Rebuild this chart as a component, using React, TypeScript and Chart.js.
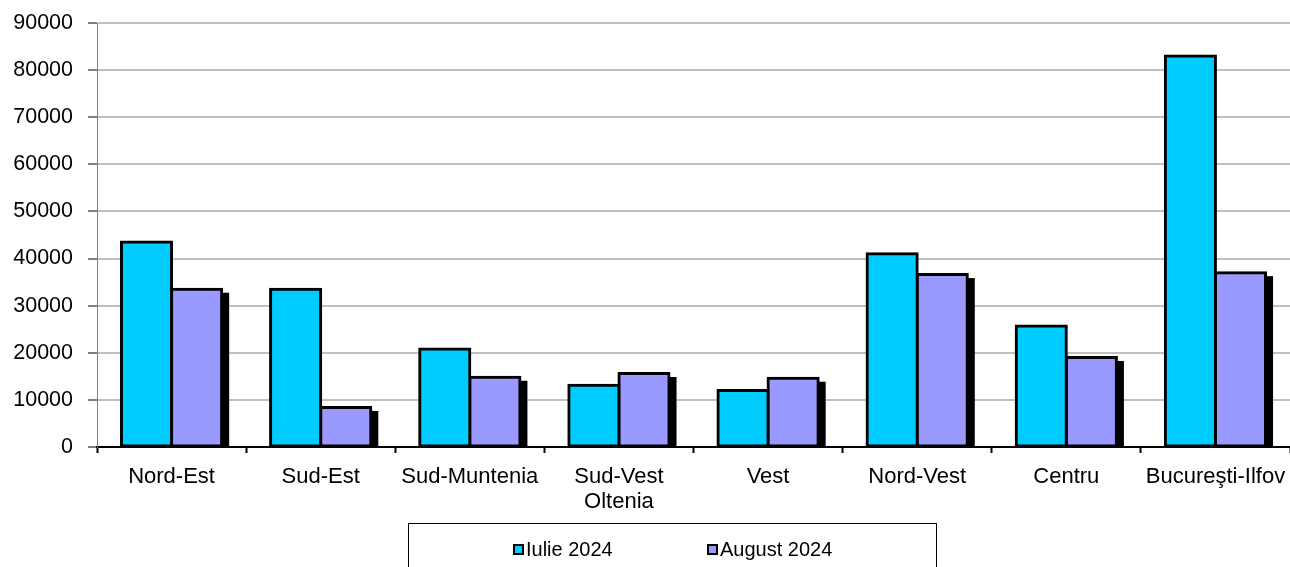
import React, { useEffect, useRef } from "react";
import { Chart, registerables } from "chart.js";

Chart.register(...registerables);

const categories: (string | string[])[] = [
  "Nord-Est",
  "Sud-Est",
  "Sud-Muntenia",
  ["Sud-Vest", "Oltenia"],
  "Vest",
  "Nord-Vest",
  "Centru",
  "Bucureşti-Ilfov",
];
const seriesNames = ["Iulie 2024", "August 2024"];
const iulie2024 = [43500, 33500, 20800, 13100, 12000, 41000, 25700, 83000];
const august2024 = [33500, 8400, 14800, 15600, 14600, 36600, 19000, 37000];
const seriesColors = ["#00CCFF", "#9999FF"];
const yMax = 90000;
const yStep = 10000;

const FONT = "'Liberation Sans', Arial, sans-serif";
const BORDER = 3;
const INFLATE = 1.5;

const shadowPlugin = {
  id: "barShadow",
  beforeDatasetsDraw(chart: any) {
    const { ctx, chartArea } = chart;
    ctx.save();
    ctx.beginPath();
    ctx.rect(
      chartArea.left,
      chartArea.top,
      chartArea.right - chartArea.left,
      chartArea.bottom - chartArea.top
    );
    ctx.clip();
    ctx.fillStyle = "#000000";
    // only the second series shows a drop shadow in the reference
    const meta = chart.getDatasetMeta(1);
    meta.data.forEach((el: any) => {
      const p = el.getProps(["x", "y", "base", "width"], true);
      const left = p.x - p.width / 2 - INFLATE;
      const top = p.y - INFLATE;
      ctx.fillRect(left + 6, top + 5, p.width + 2 * INFLATE, p.base - top);
    });
    ctx.restore();
  },
};

const legendPlugin = {
  id: "boxLegend",
  afterDraw(chart: any) {
    const ctx = chart.ctx;
    ctx.save();
    ctx.strokeStyle = "#000000";
    ctx.lineWidth = 1;
    ctx.strokeRect(408.5, 523.5, 528, 60);
    const items = [
      { x: 513, label: seriesNames[0], color: seriesColors[0] },
      { x: 707, label: seriesNames[1], color: seriesColors[1] },
    ];
    const cy = 549;
    ctx.font = `20px ${FONT}`;
    ctx.textBaseline = "middle";
    ctx.textAlign = "left";
    items.forEach((it) => {
      ctx.fillStyle = "#000000";
      ctx.fillRect(it.x, cy - 5, 11, 11);
      ctx.fillStyle = it.color;
      ctx.fillRect(it.x + 2, cy - 3, 7, 7);
      ctx.fillStyle = "#000000";
      ctx.fillText(it.label, it.x + 13, cy + 1);
    });
    ctx.restore();
  },
};

export default function App() {
  const ref = useRef<HTMLCanvasElement | null>(null);

  useEffect(() => {
    if (!ref.current) return;
    const chart = new Chart(ref.current, {
      type: "bar",
      data: {
        labels: categories,
        datasets: [
          {
            label: seriesNames[0],
            data: iulie2024,
            backgroundColor: seriesColors[0],
            borderColor: "#000000",
            borderWidth: BORDER,
            borderSkipped: false,
            inflateAmount: INFLATE,
          },
          {
            label: seriesNames[1],
            data: august2024,
            backgroundColor: seriesColors[1],
            borderColor: "#000000",
            borderWidth: BORDER,
            borderSkipped: false,
            inflateAmount: INFLATE,
          },
        ],
      },
      options: {
        animation: false,
        responsive: true,
        maintainAspectRatio: false,
        layout: { padding: { top: 23, left: 0, right: 0, bottom: 44 } },
        datasets: {
          bar: { categoryPercentage: 0.672, barPercentage: 1 },
        },
        plugins: {
          legend: { display: false },
          tooltip: { enabled: false },
        },
        scales: {
          x: {
            offset: true,
            afterFit(scale: any) {
              scale.height = 76;
              scale.paddingLeft = 0;
              scale.paddingRight = 0;
            },
            grid: {
              offset: true,
              drawOnChartArea: false,
              drawTicks: true,
              tickLength: 6,
              color: "#000000",
              tickColor: "#000000",
              tickWidth: 2,
            },
            border: { display: true, color: "#000000", width: 2 },
            ticks: {
              color: "#000000",
              font: { family: FONT, size: 22, lineHeight: 1.14 },
              padding: 11,
              maxRotation: 0,
              autoSkip: false,
            },
          },
          y: {
            min: 0,
            max: yMax,
            afterFit(scale: any) {
              scale.width = 97;
              scale.paddingTop = 0;
              scale.paddingBottom = 0;
            },
            grid: {
              color: (c: any) =>
                c.tick && c.tick.value === 0 ? "rgba(0,0,0,0)" : "#C0C0C0",
              lineWidth: 2,
              tickColor: "#000000",
              tickWidth: 1,
              tickLength: 9,
            },
            border: { display: true, color: "#808080", width: 1 },
            ticks: {
              stepSize: yStep,
              color: "#000000",
              font: { family: FONT, size: 21.5 },
              padding: 15,
              callback: (v: any) => String(v),
            },
          },
        },
      },
      plugins: [shadowPlugin, legendPlugin],
    });
    return () => chart.destroy();
  }, []);

  return (
    <div
      style={{
        position: "fixed",
        left: 0,
        top: 0,
        width: 1290,
        height: 567,
        background: "#ffffff",
      }}
    >
      <canvas ref={ref} />
    </div>
  );
}
